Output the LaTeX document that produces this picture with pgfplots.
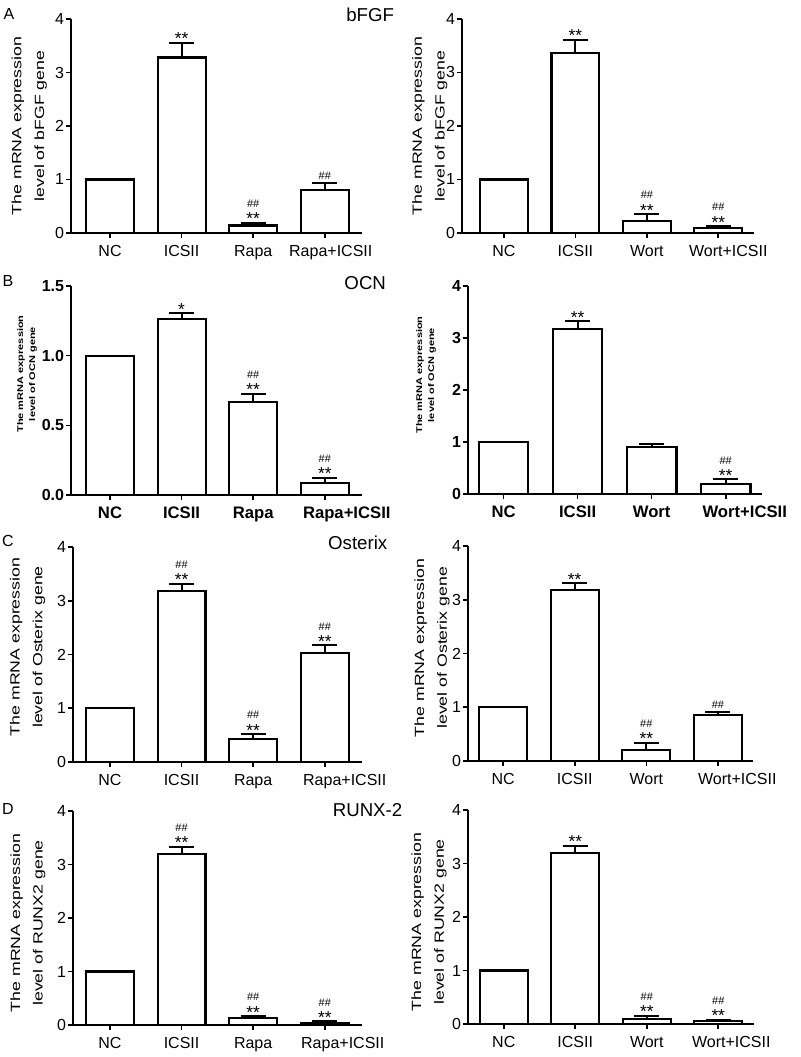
\documentclass[border=0pt]{standalone}
\usepackage{fontspec}
\setmainfont{Liberation Sans}
\usepackage{pgfplots}
\pgfplotsset{compat=1.18}

\pgfplotsset{
  panel/.style={
    scale only axis, anchor=south west, clip=false,
    axis lines=left, axis line style={-, line width=1.2pt, black},
    tick align=outside, major tick length=3.5pt,
    tick style={line width=1.2pt, black},
    xtick={0,1,2,3}, ymin=0,
    /pgf/number format/assume math mode=true,
    xticklabel style={font=\fontsize{12}{14}\selectfont, yshift=-2pt},
    yticklabel style={font=\fontsize{12}{13}\selectfont, inner sep=1.5pt},
    y label style={anchor=center, align=center, xscale=1.33, font=\fontsize{10}{17}\selectfont},
  },
  boldpanel/.style={
    xticklabel style={font=\bfseries\fontsize{12.5}{14}\selectfont},
    yticklabel style={font=\bfseries\fontsize{12}{13}\selectfont},
    y label style={xscale=1, font=\bfseries\fontsize{6.2}{9}\selectfont},
  },
  ylab/.style 2 args={y label style={at={(axis description cs:#1,#2)}}},
  barst/.style={ybar, bar width=0.67, bar shift=0pt, fill=white, draw=black, line width=1.6pt},
  errst/.style={error bars/.cd, y dir=plus, y explicit,
    error bar style={line width=1.5pt, black},
    error mark options={rotate=90, line width=1.5pt, black, mark size=9.4pt}},
}
\newcommand{\stars}[2]{\node[anchor=base, inner sep=0pt, yshift=-1.5pt, font=\fontsize{13}{14}\selectfont] at (axis cs:#1,#2) {**};}
\newcommand{\onestar}[2]{\node[anchor=base, inner sep=0pt, yshift=-1.5pt, font=\fontsize{13}{14}\selectfont] at (axis cs:#1,#2) {*};}
\newcommand{\hashes}[2]{\node[anchor=base, inner sep=0pt, yshift=3pt, font=\fontsize{8.2}{9}\selectfont] at (axis cs:#1,#2) {\#\#};}
\newcommand{\both}[2]{\stars{#1}{#2}\node[anchor=base, inner sep=0pt, yshift=11.5pt, font=\fontsize{8.2}{9}\selectfont] at (axis cs:#1,#2) {\#\#};}

\begin{document}
\begin{tikzpicture}
\path[use as bounding box] (0,0) rectangle (600pt,792.75pt);

% panel letters and titles
\node[font=\fontsize{12}{14}\selectfont] at (6.75pt,782.25pt) {A};
\node[font=\fontsize{12}{14}\selectfont] at (6pt,582pt) {B};
\node[font=\fontsize{12}{14}\selectfont] at (6pt,387pt) {C};
\node[font=\fontsize{12}{14}\selectfont] at (6pt,186pt) {D};
\node[anchor=east, font=\fontsize{14}{16}\selectfont] at (299pt,781.9pt) {bFGF};
\node[anchor=east, font=\fontsize{14}{16}\selectfont] at (293pt,580.5pt) {OCN};
\node[anchor=east, font=\fontsize{14}{16}\selectfont] at (294pt,385.5pt) {Osterix};
\node[anchor=east, font=\fontsize{14}{16}\selectfont] at (305.25pt,185.25pt) {RUNX-2};

% A left
\begin{axis}[panel, at={(53.25pt,618pt)}, width=218.25pt, height=160.5pt,
  xmin=-0.545, xmax=3.52, ymax=4, ytick={0,1,2,3,4},
  xticklabels={NC,ICSII,Rapa,{\hspace*{9pt}Rapa+ICSII}},
  ylabel={The mRNA expression\\level of bFGF gene}, ylab={-0.143}{0.5}]
\addplot[barst] coordinates {(0,1)};
\addplot[barst, errst] coordinates {(1,3.28) +- (0,0.28) (2,0.14) +- (0,0.05) (3,0.81) +- (0,0.12)};
\stars{1}{3.56}
\both{2}{0.19}
\hashes{3}{0.93}
\end{axis}

% A right
\begin{axis}[panel, at={(346.5pt,618pt)}, width=219pt, height=160.5pt,
  xmin=-0.587, xmax=3.5, ymax=4, ytick={0,1,2,3,4},
  xticklabels={NC,ICSII,Wort,{\hspace*{15pt}Wort+ICSII}},
  ylabel={The mRNA expression\\level of bFGF gene}, ylab={-0.11}{0.5}]
\addplot[barst] coordinates {(0,1)};
\addplot[barst, errst] coordinates {(1,3.37) +- (0,0.24) (2,0.23) +- (0,0.12) (3,0.087) +- (0,0.038)};
\stars{1}{3.61}
\both{2}{0.35}
\both{3}{0.125}
\end{axis}

% B left
\begin{axis}[panel, boldpanel, at={(53.25pt,421.5pt)}, width=218.25pt, height=156.75pt,
  xmin=-0.545, xmax=3.52, ymax=1.5, ytick={0,0.5,1,1.5},
  yticklabel style={/pgf/number format/.cd, fixed, fixed zerofill, precision=1},
  xticklabels={NC,ICSII,Rapa,{\hspace*{33pt}Rapa+ICSII}},
  ylabel={The mRNA expression\\level of OCN gene}, ylab={-0.151}{0.579}]
\addplot[barst] coordinates {(0,1)};
\addplot[barst, errst] coordinates {(1,1.261) +- (0,0.045) (2,0.67) +- (0,0.055) (3,0.0885) +- (0,0.034)};
\onestar{1}{1.306}
\both{2}{0.725}
\both{3}{0.122}
\end{axis}

% B right
\begin{axis}[panel, boldpanel, at={(351pt,422.25pt)}, width=220.5pt, height=156pt,
  xmin=-0.48, xmax=3.49, ymax=4, ytick={0,1,2,3,4},
  xticklabels={NC,ICSII,Wort,{\hspace*{28.5pt}Wort+ICSII}},
  ylabel={The mRNA expression\\level of OCN gene}, ylab={-0.143}{0.572}]
\addplot[barst] coordinates {(0,1)};
\addplot[barst, errst] coordinates {(1,3.18) +- (0,0.14) (2,0.90) +- (0,0.066) (3,0.186) +- (0,0.094)};
\stars{1}{3.32}
\both{3}{0.28}
\end{axis}

% C left
\begin{axis}[panel, at={(54.75pt,221.25pt)}, width=216.75pt, height=161.25pt,
  xmin=-0.516, xmax=3.52, ymax=4, ytick={0,1,2,3,4},
  xticklabels={NC,ICSII,Rapa,{\hspace*{30pt}Rapa+ICSII}},
  ylabel={The mRNA expression\\level of Osterix gene}, ylab={-0.157}{0.535}]
\addplot[barst] coordinates {(0,1)};
\addplot[barst, errst] coordinates {(1,3.175) +- (0,0.145) (2,0.42) +- (0,0.10) (3,2.03) +- (0,0.14)};
\both{1}{3.32}
\both{2}{0.52}
\both{3}{2.17}
\end{axis}

% C right
\begin{axis}[panel, at={(351pt,222pt)}, width=213.75pt, height=161.25pt,
  xmin=-0.49, xmax=3.49, ymax=4, ytick={0,1,2,3,4},
  xticklabels={NC,ICSII,Wort,{\hspace*{29pt}Wort+ICSII}},
  ylabel={The mRNA expression\\level of Osterix gene}, ylab={-0.126}{0.526}]
\addplot[barst] coordinates {(0,1)};
\addplot[barst, errst] coordinates {(1,3.175) +- (0,0.135) (2,0.20) +- (0,0.14) (3,0.856) +- (0,0.055)};
\stars{1}{3.31}
\both{2}{0.34}
\hashes{3}{0.91}
\end{axis}

% D left
\begin{axis}[panel, at={(54.75pt,24pt)}, width=216.75pt, height=160.5pt,
  xmin=-0.516, xmax=3.52, ymax=4, ytick={0,1,2,3,4},
  xticklabels={NC,ICSII,Rapa,{\hspace*{27pt}Rapa+ICSII}},
  ylabel={The mRNA expression\\level of RUNX2 gene}, ylab={-0.156}{0.477}]
\addplot[barst] coordinates {(0,1)};
\addplot[barst, errst] coordinates {(1,3.19) +- (0,0.14) (2,0.124) +- (0,0.044) (3,0.044) +- (0,0.024)};
\both{1}{3.33}
\both{2}{0.168}
\both{3}{0.068}
\end{axis}

% D right
\begin{axis}[panel, at={(351pt,24.75pt)}, width=214.5pt, height=160.5pt,
  xmin=-0.5, xmax=3.5, ymax=4, ytick={0,1,2,3,4},
  xticklabels={NC,ICSII,Wort,{\hspace*{19.5pt}Wort+ICSII}},
  ylabel={The mRNA expression\\level of RUNX2 gene}, ylab={-0.136}{0.477}]
\addplot[barst] coordinates {(0,1)};
\addplot[barst, errst] coordinates {(1,3.19) +- (0,0.14) (2,0.093) +- (0,0.063) (3,0.062) +- (0,0.013)};
\stars{1}{3.33}
\both{2}{0.156}
\both{3}{0.075}
\end{axis}
\end{tikzpicture}
\end{document}
